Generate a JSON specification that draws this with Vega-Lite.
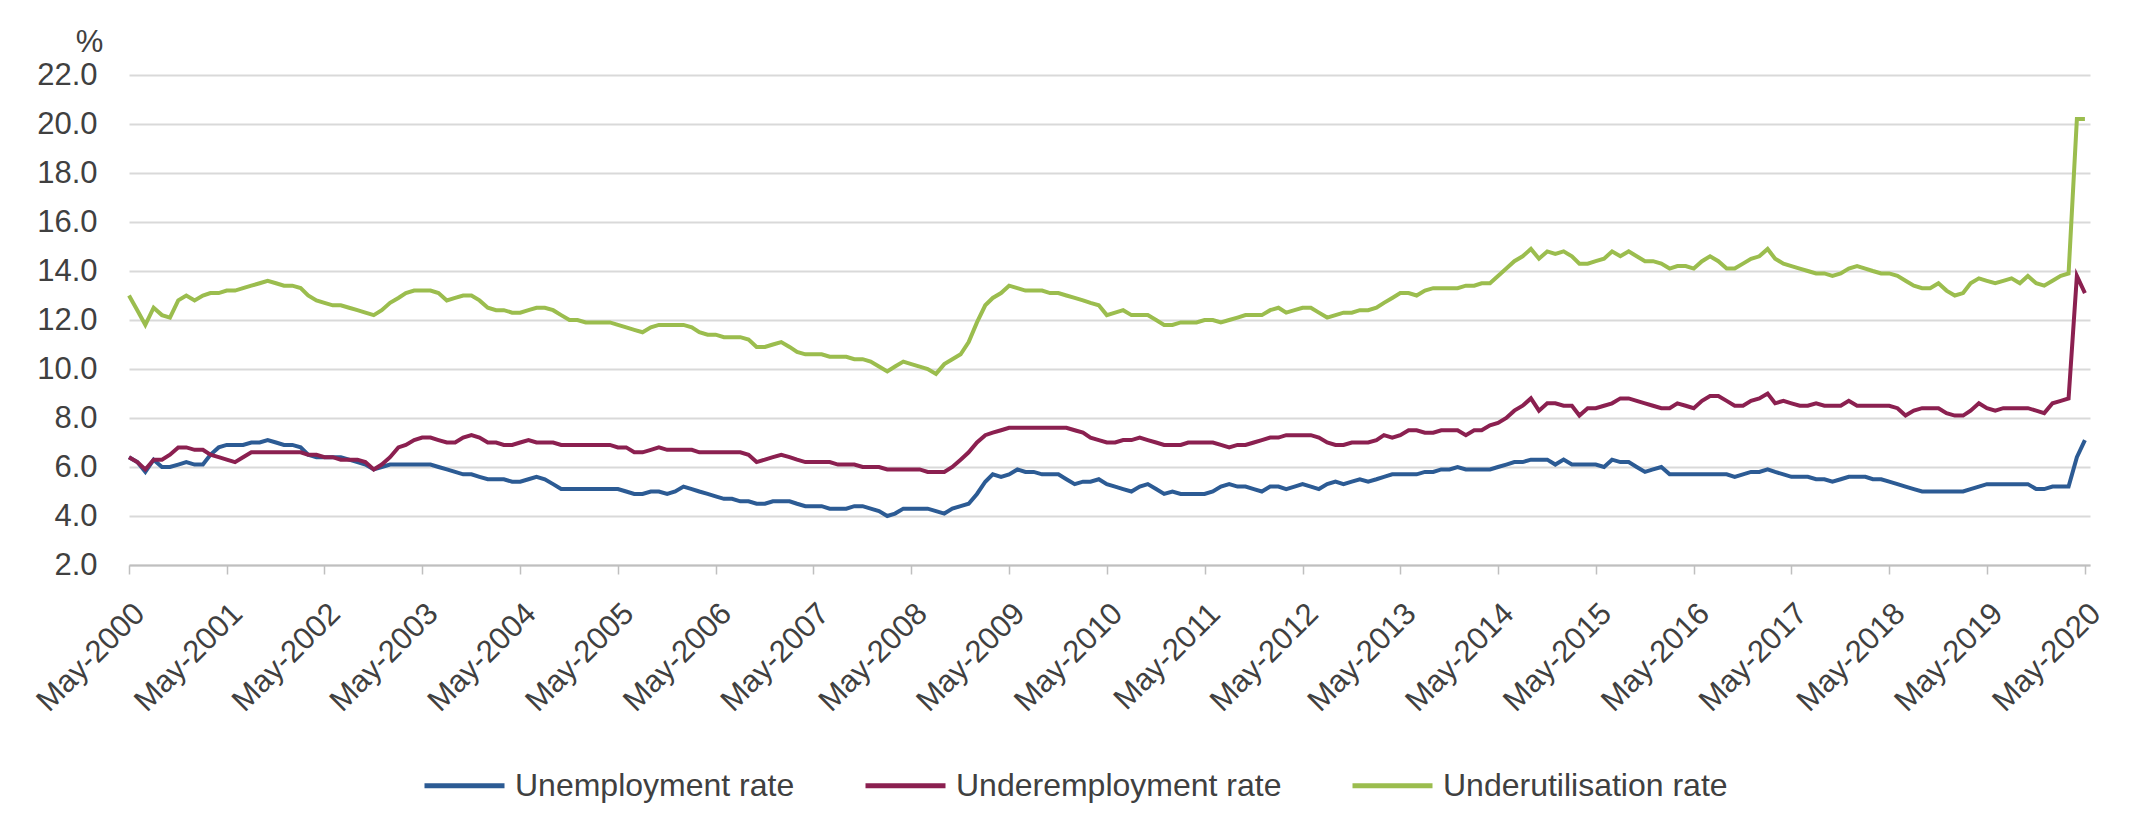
{
"$schema": "https://vega.github.io/schema/vega-lite/v6.json",
"width": 1961,
"height": 490,
"autosize": {"type": "none"},
"padding": {"left": 129, "top": 75, "right": 42, "bottom": 275},
"background": "white",
"config": {"view": {"stroke": null}, "font": "Liberation Sans"},
"data": {"values": [
{"d":"2000-05-01","u":6.4,"e":6.4,"g":13.0},
{"d":"2000-06-01","u":6.2,"e":6.2,"g":12.4},
{"d":"2000-07-01","u":5.8,"e":5.9,"g":11.8},
{"d":"2000-08-01","u":6.3,"e":6.3,"g":12.5},
{"d":"2000-09-01","u":6.0,"e":6.3,"g":12.2},
{"d":"2000-10-01","u":6.0,"e":6.5,"g":12.1},
{"d":"2000-11-01","u":6.1,"e":6.8,"g":12.8},
{"d":"2000-12-01","u":6.2,"e":6.8,"g":13.0},
{"d":"2001-01-01","u":6.1,"e":6.7,"g":12.8},
{"d":"2001-02-01","u":6.1,"e":6.7,"g":13.0},
{"d":"2001-03-01","u":6.5,"e":6.5,"g":13.1},
{"d":"2001-04-01","u":6.8,"e":6.4,"g":13.1},
{"d":"2001-05-01","u":6.9,"e":6.3,"g":13.2},
{"d":"2001-06-01","u":6.9,"e":6.2,"g":13.2},
{"d":"2001-07-01","u":6.9,"e":6.4,"g":13.3},
{"d":"2001-08-01","u":7.0,"e":6.6,"g":13.4},
{"d":"2001-09-01","u":7.0,"e":6.6,"g":13.5},
{"d":"2001-10-01","u":7.1,"e":6.6,"g":13.6},
{"d":"2001-11-01","u":7.0,"e":6.6,"g":13.5},
{"d":"2001-12-01","u":6.9,"e":6.6,"g":13.4},
{"d":"2002-01-01","u":6.9,"e":6.6,"g":13.4},
{"d":"2002-02-01","u":6.8,"e":6.6,"g":13.3},
{"d":"2002-03-01","u":6.5,"e":6.5,"g":13.0},
{"d":"2002-04-01","u":6.4,"e":6.5,"g":12.8},
{"d":"2002-05-01","u":6.4,"e":6.4,"g":12.7},
{"d":"2002-06-01","u":6.4,"e":6.4,"g":12.6},
{"d":"2002-07-01","u":6.4,"e":6.3,"g":12.6},
{"d":"2002-08-01","u":6.3,"e":6.3,"g":12.5},
{"d":"2002-09-01","u":6.2,"e":6.3,"g":12.4},
{"d":"2002-10-01","u":6.1,"e":6.2,"g":12.3},
{"d":"2002-11-01","u":5.9,"e":5.9,"g":12.2},
{"d":"2002-12-01","u":6.0,"e":6.1,"g":12.4},
{"d":"2003-01-01","u":6.1,"e":6.4,"g":12.7},
{"d":"2003-02-01","u":6.1,"e":6.8,"g":12.9},
{"d":"2003-03-01","u":6.1,"e":6.9,"g":13.1},
{"d":"2003-04-01","u":6.1,"e":7.1,"g":13.2},
{"d":"2003-05-01","u":6.1,"e":7.2,"g":13.2},
{"d":"2003-06-01","u":6.1,"e":7.2,"g":13.2},
{"d":"2003-07-01","u":6.0,"e":7.1,"g":13.1},
{"d":"2003-08-01","u":5.9,"e":7.0,"g":12.8},
{"d":"2003-09-01","u":5.8,"e":7.0,"g":12.9},
{"d":"2003-10-01","u":5.7,"e":7.2,"g":13.0},
{"d":"2003-11-01","u":5.7,"e":7.3,"g":13.0},
{"d":"2003-12-01","u":5.6,"e":7.2,"g":12.8},
{"d":"2004-01-01","u":5.5,"e":7.0,"g":12.5},
{"d":"2004-02-01","u":5.5,"e":7.0,"g":12.4},
{"d":"2004-03-01","u":5.5,"e":6.9,"g":12.4},
{"d":"2004-04-01","u":5.4,"e":6.9,"g":12.3},
{"d":"2004-05-01","u":5.4,"e":7.0,"g":12.3},
{"d":"2004-06-01","u":5.5,"e":7.1,"g":12.4},
{"d":"2004-07-01","u":5.6,"e":7.0,"g":12.5},
{"d":"2004-08-01","u":5.5,"e":7.0,"g":12.5},
{"d":"2004-09-01","u":5.3,"e":7.0,"g":12.4},
{"d":"2004-10-01","u":5.1,"e":6.9,"g":12.2},
{"d":"2004-11-01","u":5.1,"e":6.9,"g":12.0},
{"d":"2004-12-01","u":5.1,"e":6.9,"g":12.0},
{"d":"2005-01-01","u":5.1,"e":6.9,"g":11.9},
{"d":"2005-02-01","u":5.1,"e":6.9,"g":11.9},
{"d":"2005-03-01","u":5.1,"e":6.9,"g":11.9},
{"d":"2005-04-01","u":5.1,"e":6.9,"g":11.9},
{"d":"2005-05-01","u":5.1,"e":6.8,"g":11.8},
{"d":"2005-06-01","u":5.0,"e":6.8,"g":11.7},
{"d":"2005-07-01","u":4.9,"e":6.6,"g":11.6},
{"d":"2005-08-01","u":4.9,"e":6.6,"g":11.5},
{"d":"2005-09-01","u":5.0,"e":6.7,"g":11.7},
{"d":"2005-10-01","u":5.0,"e":6.8,"g":11.8},
{"d":"2005-11-01","u":4.9,"e":6.7,"g":11.8},
{"d":"2005-12-01","u":5.0,"e":6.7,"g":11.8},
{"d":"2006-01-01","u":5.2,"e":6.7,"g":11.8},
{"d":"2006-02-01","u":5.1,"e":6.7,"g":11.7},
{"d":"2006-03-01","u":5.0,"e":6.6,"g":11.5},
{"d":"2006-04-01","u":4.9,"e":6.6,"g":11.4},
{"d":"2006-05-01","u":4.8,"e":6.6,"g":11.4},
{"d":"2006-06-01","u":4.7,"e":6.6,"g":11.3},
{"d":"2006-07-01","u":4.7,"e":6.6,"g":11.3},
{"d":"2006-08-01","u":4.6,"e":6.6,"g":11.3},
{"d":"2006-09-01","u":4.6,"e":6.5,"g":11.2},
{"d":"2006-10-01","u":4.5,"e":6.2,"g":10.9},
{"d":"2006-11-01","u":4.5,"e":6.3,"g":10.9},
{"d":"2006-12-01","u":4.6,"e":6.4,"g":11.0},
{"d":"2007-01-01","u":4.6,"e":6.5,"g":11.1},
{"d":"2007-02-01","u":4.6,"e":6.4,"g":10.9},
{"d":"2007-03-01","u":4.5,"e":6.3,"g":10.7},
{"d":"2007-04-01","u":4.4,"e":6.2,"g":10.6},
{"d":"2007-05-01","u":4.4,"e":6.2,"g":10.6},
{"d":"2007-06-01","u":4.4,"e":6.2,"g":10.6},
{"d":"2007-07-01","u":4.3,"e":6.2,"g":10.5},
{"d":"2007-08-01","u":4.3,"e":6.1,"g":10.5},
{"d":"2007-09-01","u":4.3,"e":6.1,"g":10.5},
{"d":"2007-10-01","u":4.4,"e":6.1,"g":10.4},
{"d":"2007-11-01","u":4.4,"e":6.0,"g":10.4},
{"d":"2007-12-01","u":4.3,"e":6.0,"g":10.3},
{"d":"2008-01-01","u":4.2,"e":6.0,"g":10.1},
{"d":"2008-02-01","u":4.0,"e":5.9,"g":9.9},
{"d":"2008-03-01","u":4.1,"e":5.9,"g":10.1},
{"d":"2008-04-01","u":4.3,"e":5.9,"g":10.3},
{"d":"2008-05-01","u":4.3,"e":5.9,"g":10.2},
{"d":"2008-06-01","u":4.3,"e":5.9,"g":10.1},
{"d":"2008-07-01","u":4.3,"e":5.8,"g":10.0},
{"d":"2008-08-01","u":4.2,"e":5.8,"g":9.8},
{"d":"2008-09-01","u":4.1,"e":5.8,"g":10.2},
{"d":"2008-10-01","u":4.3,"e":6.0,"g":10.4},
{"d":"2008-11-01","u":4.4,"e":6.3,"g":10.6},
{"d":"2008-12-01","u":4.5,"e":6.6,"g":11.1},
{"d":"2009-01-01","u":4.9,"e":7.0,"g":11.9},
{"d":"2009-02-01","u":5.4,"e":7.3,"g":12.6},
{"d":"2009-03-01","u":5.7,"e":7.4,"g":12.9},
{"d":"2009-04-01","u":5.6,"e":7.5,"g":13.1},
{"d":"2009-05-01","u":5.7,"e":7.6,"g":13.4},
{"d":"2009-06-01","u":5.9,"e":7.6,"g":13.3},
{"d":"2009-07-01","u":5.8,"e":7.6,"g":13.2},
{"d":"2009-08-01","u":5.8,"e":7.6,"g":13.2},
{"d":"2009-09-01","u":5.7,"e":7.6,"g":13.2},
{"d":"2009-10-01","u":5.7,"e":7.6,"g":13.1},
{"d":"2009-11-01","u":5.7,"e":7.6,"g":13.1},
{"d":"2009-12-01","u":5.5,"e":7.6,"g":13.0},
{"d":"2010-01-01","u":5.3,"e":7.5,"g":12.9},
{"d":"2010-02-01","u":5.4,"e":7.4,"g":12.8},
{"d":"2010-03-01","u":5.4,"e":7.2,"g":12.7},
{"d":"2010-04-01","u":5.5,"e":7.1,"g":12.6},
{"d":"2010-05-01","u":5.3,"e":7.0,"g":12.2},
{"d":"2010-06-01","u":5.2,"e":7.0,"g":12.3},
{"d":"2010-07-01","u":5.1,"e":7.1,"g":12.4},
{"d":"2010-08-01","u":5.0,"e":7.1,"g":12.2},
{"d":"2010-09-01","u":5.2,"e":7.2,"g":12.2},
{"d":"2010-10-01","u":5.3,"e":7.1,"g":12.2},
{"d":"2010-11-01","u":5.1,"e":7.0,"g":12.0},
{"d":"2010-12-01","u":4.9,"e":6.9,"g":11.8},
{"d":"2011-01-01","u":5.0,"e":6.9,"g":11.8},
{"d":"2011-02-01","u":4.9,"e":6.9,"g":11.9},
{"d":"2011-03-01","u":4.9,"e":7.0,"g":11.9},
{"d":"2011-04-01","u":4.9,"e":7.0,"g":11.9},
{"d":"2011-05-01","u":4.9,"e":7.0,"g":12.0},
{"d":"2011-06-01","u":5.0,"e":7.0,"g":12.0},
{"d":"2011-07-01","u":5.2,"e":6.9,"g":11.9},
{"d":"2011-08-01","u":5.3,"e":6.8,"g":12.0},
{"d":"2011-09-01","u":5.2,"e":6.9,"g":12.1},
{"d":"2011-10-01","u":5.2,"e":6.9,"g":12.2},
{"d":"2011-11-01","u":5.1,"e":7.0,"g":12.2},
{"d":"2011-12-01","u":5.0,"e":7.1,"g":12.2},
{"d":"2012-01-01","u":5.2,"e":7.2,"g":12.4},
{"d":"2012-02-01","u":5.2,"e":7.2,"g":12.5},
{"d":"2012-03-01","u":5.1,"e":7.3,"g":12.3},
{"d":"2012-04-01","u":5.2,"e":7.3,"g":12.4},
{"d":"2012-05-01","u":5.3,"e":7.3,"g":12.5},
{"d":"2012-06-01","u":5.2,"e":7.3,"g":12.5},
{"d":"2012-07-01","u":5.1,"e":7.2,"g":12.3},
{"d":"2012-08-01","u":5.3,"e":7.0,"g":12.1},
{"d":"2012-09-01","u":5.4,"e":6.9,"g":12.2},
{"d":"2012-10-01","u":5.3,"e":6.9,"g":12.3},
{"d":"2012-11-01","u":5.4,"e":7.0,"g":12.3},
{"d":"2012-12-01","u":5.5,"e":7.0,"g":12.4},
{"d":"2013-01-01","u":5.4,"e":7.0,"g":12.4},
{"d":"2013-02-01","u":5.5,"e":7.1,"g":12.5},
{"d":"2013-03-01","u":5.6,"e":7.3,"g":12.7},
{"d":"2013-04-01","u":5.7,"e":7.2,"g":12.9},
{"d":"2013-05-01","u":5.7,"e":7.3,"g":13.1},
{"d":"2013-06-01","u":5.7,"e":7.5,"g":13.1},
{"d":"2013-07-01","u":5.7,"e":7.5,"g":13.0},
{"d":"2013-08-01","u":5.8,"e":7.4,"g":13.2},
{"d":"2013-09-01","u":5.8,"e":7.4,"g":13.3},
{"d":"2013-10-01","u":5.9,"e":7.5,"g":13.3},
{"d":"2013-11-01","u":5.9,"e":7.5,"g":13.3},
{"d":"2013-12-01","u":6.0,"e":7.5,"g":13.3},
{"d":"2014-01-01","u":5.9,"e":7.3,"g":13.4},
{"d":"2014-02-01","u":5.9,"e":7.5,"g":13.4},
{"d":"2014-03-01","u":5.9,"e":7.5,"g":13.5},
{"d":"2014-04-01","u":5.9,"e":7.7,"g":13.5},
{"d":"2014-05-01","u":6.0,"e":7.8,"g":13.8},
{"d":"2014-06-01","u":6.1,"e":8.0,"g":14.1},
{"d":"2014-07-01","u":6.2,"e":8.3,"g":14.4},
{"d":"2014-08-01","u":6.2,"e":8.5,"g":14.6},
{"d":"2014-09-01","u":6.3,"e":8.8,"g":14.9},
{"d":"2014-10-01","u":6.3,"e":8.3,"g":14.5},
{"d":"2014-11-01","u":6.3,"e":8.6,"g":14.8},
{"d":"2014-12-01","u":6.1,"e":8.6,"g":14.7},
{"d":"2015-01-01","u":6.3,"e":8.5,"g":14.8},
{"d":"2015-02-01","u":6.1,"e":8.5,"g":14.6},
{"d":"2015-03-01","u":6.1,"e":8.1,"g":14.3},
{"d":"2015-04-01","u":6.1,"e":8.4,"g":14.3},
{"d":"2015-05-01","u":6.1,"e":8.4,"g":14.4},
{"d":"2015-06-01","u":6.0,"e":8.5,"g":14.5},
{"d":"2015-07-01","u":6.3,"e":8.6,"g":14.8},
{"d":"2015-08-01","u":6.2,"e":8.8,"g":14.6},
{"d":"2015-09-01","u":6.2,"e":8.8,"g":14.8},
{"d":"2015-10-01","u":6.0,"e":8.7,"g":14.6},
{"d":"2015-11-01","u":5.8,"e":8.6,"g":14.4},
{"d":"2015-12-01","u":5.9,"e":8.5,"g":14.4},
{"d":"2016-01-01","u":6.0,"e":8.4,"g":14.3},
{"d":"2016-02-01","u":5.7,"e":8.4,"g":14.1},
{"d":"2016-03-01","u":5.7,"e":8.6,"g":14.2},
{"d":"2016-04-01","u":5.7,"e":8.5,"g":14.2},
{"d":"2016-05-01","u":5.7,"e":8.4,"g":14.1},
{"d":"2016-06-01","u":5.7,"e":8.7,"g":14.4},
{"d":"2016-07-01","u":5.7,"e":8.9,"g":14.6},
{"d":"2016-08-01","u":5.7,"e":8.9,"g":14.4},
{"d":"2016-09-01","u":5.7,"e":8.7,"g":14.1},
{"d":"2016-10-01","u":5.6,"e":8.5,"g":14.1},
{"d":"2016-11-01","u":5.7,"e":8.5,"g":14.3},
{"d":"2016-12-01","u":5.8,"e":8.7,"g":14.5},
{"d":"2017-01-01","u":5.8,"e":8.8,"g":14.6},
{"d":"2017-02-01","u":5.9,"e":9.0,"g":14.9},
{"d":"2017-03-01","u":5.8,"e":8.6,"g":14.5},
{"d":"2017-04-01","u":5.7,"e":8.7,"g":14.3},
{"d":"2017-05-01","u":5.6,"e":8.6,"g":14.2},
{"d":"2017-06-01","u":5.6,"e":8.5,"g":14.1},
{"d":"2017-07-01","u":5.6,"e":8.5,"g":14.0},
{"d":"2017-08-01","u":5.5,"e":8.6,"g":13.9},
{"d":"2017-09-01","u":5.5,"e":8.5,"g":13.9},
{"d":"2017-10-01","u":5.4,"e":8.5,"g":13.8},
{"d":"2017-11-01","u":5.5,"e":8.5,"g":13.9},
{"d":"2017-12-01","u":5.6,"e":8.7,"g":14.1},
{"d":"2018-01-01","u":5.6,"e":8.5,"g":14.2},
{"d":"2018-02-01","u":5.6,"e":8.5,"g":14.1},
{"d":"2018-03-01","u":5.5,"e":8.5,"g":14.0},
{"d":"2018-04-01","u":5.5,"e":8.5,"g":13.9},
{"d":"2018-05-01","u":5.4,"e":8.5,"g":13.9},
{"d":"2018-06-01","u":5.3,"e":8.4,"g":13.8},
{"d":"2018-07-01","u":5.2,"e":8.1,"g":13.6},
{"d":"2018-08-01","u":5.1,"e":8.3,"g":13.4},
{"d":"2018-09-01","u":5.0,"e":8.4,"g":13.3},
{"d":"2018-10-01","u":5.0,"e":8.4,"g":13.3},
{"d":"2018-11-01","u":5.0,"e":8.4,"g":13.5},
{"d":"2018-12-01","u":5.0,"e":8.2,"g":13.2},
{"d":"2019-01-01","u":5.0,"e":8.1,"g":13.0},
{"d":"2019-02-01","u":5.0,"e":8.1,"g":13.1},
{"d":"2019-03-01","u":5.1,"e":8.3,"g":13.5},
{"d":"2019-04-01","u":5.2,"e":8.6,"g":13.7},
{"d":"2019-05-01","u":5.3,"e":8.4,"g":13.6},
{"d":"2019-06-01","u":5.3,"e":8.3,"g":13.5},
{"d":"2019-07-01","u":5.3,"e":8.4,"g":13.6},
{"d":"2019-08-01","u":5.3,"e":8.4,"g":13.7},
{"d":"2019-09-01","u":5.3,"e":8.4,"g":13.5},
{"d":"2019-10-01","u":5.3,"e":8.4,"g":13.8},
{"d":"2019-11-01","u":5.1,"e":8.3,"g":13.5},
{"d":"2019-12-01","u":5.1,"e":8.2,"g":13.4},
{"d":"2020-01-01","u":5.2,"e":8.6,"g":13.6},
{"d":"2020-02-01","u":5.2,"e":8.7,"g":13.8},
{"d":"2020-03-01","u":5.2,"e":8.8,"g":13.9},
{"d":"2020-04-01","u":6.4,"e":13.8,"g":20.2},
{"d":"2020-05-01","u":7.1,"e":13.1,"g":20.2}
]},
"transform": [{"fold": ["u", "e", "g"], "as": ["series", "value"]}],
"mark": {"type": "line", "strokeWidth": 4},
"encoding": {
  "x": {
    "field": "d", "type": "temporal",
    "scale": {"type": "utc", "domain": [{"year": 2000, "month": 5, "date": 1, "utc": true}, {"year": 2020, "month": 5, "date": 20, "utc": true}]},
    "axis": {
      "title": null,
      "values": [
        {"year": 2000, "month": 5, "date": 1, "utc": true},
        {"year": 2001, "month": 5, "date": 1, "utc": true},
        {"year": 2002, "month": 5, "date": 1, "utc": true},
        {"year": 2003, "month": 5, "date": 1, "utc": true},
        {"year": 2004, "month": 5, "date": 1, "utc": true},
        {"year": 2005, "month": 5, "date": 1, "utc": true},
        {"year": 2006, "month": 5, "date": 1, "utc": true},
        {"year": 2007, "month": 5, "date": 1, "utc": true},
        {"year": 2008, "month": 5, "date": 1, "utc": true},
        {"year": 2009, "month": 5, "date": 1, "utc": true},
        {"year": 2010, "month": 5, "date": 1, "utc": true},
        {"year": 2011, "month": 5, "date": 1, "utc": true},
        {"year": 2012, "month": 5, "date": 1, "utc": true},
        {"year": 2013, "month": 5, "date": 1, "utc": true},
        {"year": 2014, "month": 5, "date": 1, "utc": true},
        {"year": 2015, "month": 5, "date": 1, "utc": true},
        {"year": 2016, "month": 5, "date": 1, "utc": true},
        {"year": 2017, "month": 5, "date": 1, "utc": true},
        {"year": 2018, "month": 5, "date": 1, "utc": true},
        {"year": 2019, "month": 5, "date": 1, "utc": true},
        {"year": 2020, "month": 5, "date": 1, "utc": true}
      ],
      "labelExpr": "utcFormat(datum.value, '%b') + '-' + utcFormat(datum.value, '%Y')",
      "labelAngle": -45, "labelFontSize": 31, "labelColor": "#404040",
      "labelPadding": 24, "labelOverlap": false, "labelFlush": false, "labelLimit": 0, "labelBound": false,
      "grid": false, "domainColor": "#bfbfbf", "domainWidth": 2,
      "tickColor": "#bfbfbf", "tickSize": 9, "tickWidth": 1.5
    }
  },
  "y": {
    "field": "value", "type": "quantitative",
    "scale": {"domain": [2, 22], "nice": false, "zero": false},
    "axis": {
      "values": [2, 4, 6, 8, 10, 12, 14, 16, 18, 20, 22],
      "format": ".1f",
      "title": "%", "titleAngle": 0, "titleX": -40, "titleY": -33,
      "titleFontSize": 31, "titleFontWeight": "normal", "titleColor": "#404040",
      "titleAlign": "center", "titleBaseline": "middle",
      "labelFontSize": 31, "labelColor": "#404040", "labelPadding": 32,
      "ticks": false, "domain": false,
      "gridColor": "#d9d9d9", "gridWidth": 2
    }
  },
  "color": {
    "field": "series", "type": "nominal",
    "scale": {"domain": ["u", "e", "g"], "range": ["#2c5b94", "#8b2050", "#9bbd4e"]},
    "legend": {
      "orient": "none", "legendX": 293, "legendY": 668, "direction": "horizontal",
      "title": null, "symbolType": "stroke", "symbolSize": 6400, "symbolStrokeWidth": 5,
      "labelFontSize": 32, "labelColor": "#404040", "labelOffset": 8, "columnPadding": 60,
      "labelLimit": 500,
      "labelExpr": "datum.label == 'u' ? 'Unemployment rate' : datum.label == 'e' ? 'Underemployment rate' : 'Underutilisation rate'"
    }
  }
}
}
